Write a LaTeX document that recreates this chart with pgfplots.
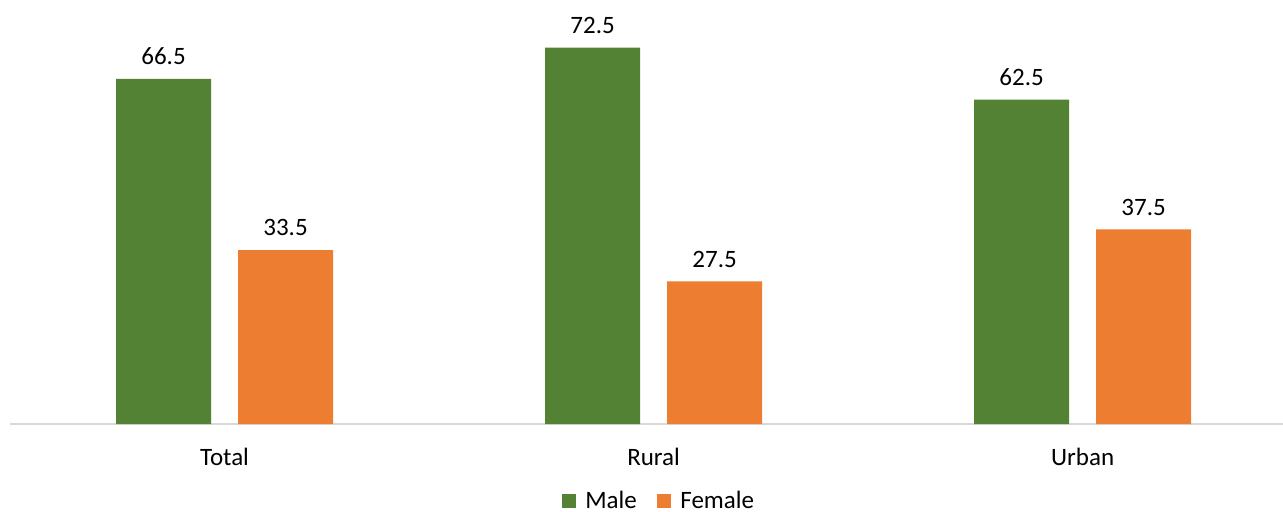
\documentclass[border=0pt]{standalone}
\usepackage{pgfplots}
\pgfplotsset{compat=1.18}
\usepackage{fontspec}
\setmainfont{Carlito}
\definecolor{cmale}{HTML}{548235}
\definecolor{cfemale}{HTML}{ED7D31}
\definecolor{caxis}{HTML}{D9D9D9}
\begin{document}
\begin{tikzpicture}[font=\fontsize{12.5}{15}\selectfont]
\path[use as bounding box] (0,0) rectangle (641.5pt,255.5pt);
\begin{axis}[
  at={(5pt,43.5pt)}, anchor=south west,
  width=636.5pt, height=212pt, scale only axis,
  xmin=-0.5, xmax=2.467, ymin=0, ymax=81.7,
  axis x line*=bottom, axis y line=none,
  x axis line style={caxis, line width=0.75pt, -},
  xtick={0,1,2}, xticklabels={Total,Rural,Urban},
  major tick length=0pt,
  xticklabel style={anchor=center, yshift=-16.5pt, text=black},
  ytick=\empty,
  ybar, bar width=47.5pt,
  /pgf/number format/assume math mode=true,
  nodes near coords={\pgfmathprintnumber[fixed,fixed zerofill,precision=1]{\pgfplotspointmeta}},
  nodes near coords style={font=\fontsize{12.5}{15}\selectfont, text=black, anchor=south, yshift=3.5pt},
  legend style={draw=none, fill=none, at={(0.5105,-0.1816)}, anchor=center, legend columns=2,
    /tikz/every odd column/.append style={column sep=2.5pt},
    /tikz/every even column/.append style={column sep=8pt}, font=\fontsize{12.5}{15}\selectfont},
  legend cell align=left,
  clip=false,
]
\addplot[draw=none, fill=cmale, bar shift=-30.5pt,
  legend image code/.code={\fill[cmale] (0pt,-3.6pt) rectangle (7.3pt,3.6pt);}]
  coordinates {(0,66.5) (1,72.5) (2,62.5)};
\addplot[draw=none, fill=cfemale, bar shift=30.5pt,
  legend image code/.code={\fill[cfemale] (0pt,-3.6pt) rectangle (7.3pt,3.6pt);}]
  coordinates {(0,33.5) (1,27.5) (2,37.5)};
\legend{Male,Female}
\end{axis}
\end{tikzpicture}
\end{document}
